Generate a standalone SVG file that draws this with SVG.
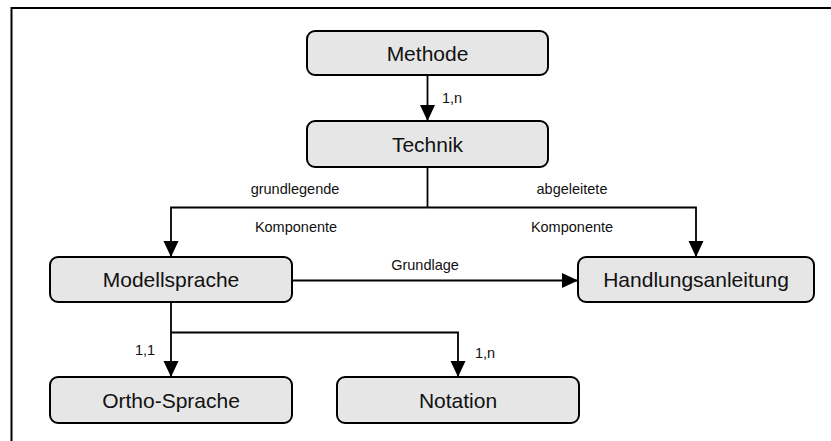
<svg xmlns="http://www.w3.org/2000/svg" width="831" height="441" viewBox="0 0 831 441">
<style>
.box{fill:#e6e6e6;stroke:#000;stroke-width:2}
.nt{font-family:"Liberation Sans",Arial,sans-serif;font-size:21px;fill:#111;text-anchor:middle}
.lb{font-family:"Liberation Sans",Arial,sans-serif;font-size:14.5px;fill:#111;text-anchor:middle}
.ln{fill:none;stroke:#000;stroke-width:1.8}
.fr{fill:none;stroke:#000;stroke-width:2}
</style>
<defs>
<marker id="ah" markerUnits="userSpaceOnUse" markerWidth="17" markerHeight="16" refX="16" refY="7.5" orient="auto">
<path d="M0,0 L16,7.5 L0,15 z" fill="#000"/>
</marker>
</defs>
<rect width="831" height="441" fill="#fff"/>
<path class="fr" d="M11.5,441 V8 H831"/>
<g id="connectors">
<line class="ln" x1="427.5" y1="75" x2="427.5" y2="121" marker-end="url(#ah)"/>
<text class="lb" x="452" y="103">1,n</text>
<path class="ln" d="M427.5,167 V207.5"/>
<path class="ln" d="M427.5,207.5 H171 V257" marker-end="url(#ah)"/>
<path class="ln" d="M427.5,207.5 H696 V257" marker-end="url(#ah)"/>
<text class="lb" x="295" y="194">grundlegende</text>
<text class="lb" x="572" y="194">abgeleitete</text>
<text class="lb" x="296" y="232">Komponente</text>
<text class="lb" x="572" y="232">Komponente</text>
<line class="ln" x1="292" y1="280.5" x2="578" y2="280.5" marker-end="url(#ah)"/>
<text class="lb" x="425" y="270">Grundlage</text>
<path class="ln" d="M171,302 V377" marker-end="url(#ah)"/>
<path class="ln" d="M171,332.5 H458 V377" marker-end="url(#ah)"/>
<text class="lb" x="145" y="355">1,1</text>
<text class="lb" x="485" y="358">1,n</text>
</g>
<g id="methode"><rect class="box" x="307" y="31" width="241" height="44" rx="8"/><text class="nt" x="427.5" y="60.5">Methode</text></g>
<g id="technik"><rect class="box" x="307" y="121" width="241" height="46" rx="8"/><text class="nt" x="427.5" y="151.5">Technik</text></g>
<g id="modellsprache"><rect class="box" x="50" y="257" width="242" height="45" rx="8"/><text class="nt" x="171" y="286.5">Modellsprache</text></g>
<g id="handlungsanleitung"><rect class="box" x="578" y="257" width="236" height="45" rx="8"/><text class="nt" x="696" y="286.5">Handlungsanleitung</text></g>
<g id="ortho-sprache"><rect class="box" x="50" y="377" width="242" height="46" rx="8"/><text class="nt" x="171" y="407.5">Ortho-Sprache</text></g>
<g id="notation"><rect class="box" x="337" y="377" width="242" height="46" rx="8"/><text class="nt" x="458" y="407.5">Notation</text></g>
</svg>
